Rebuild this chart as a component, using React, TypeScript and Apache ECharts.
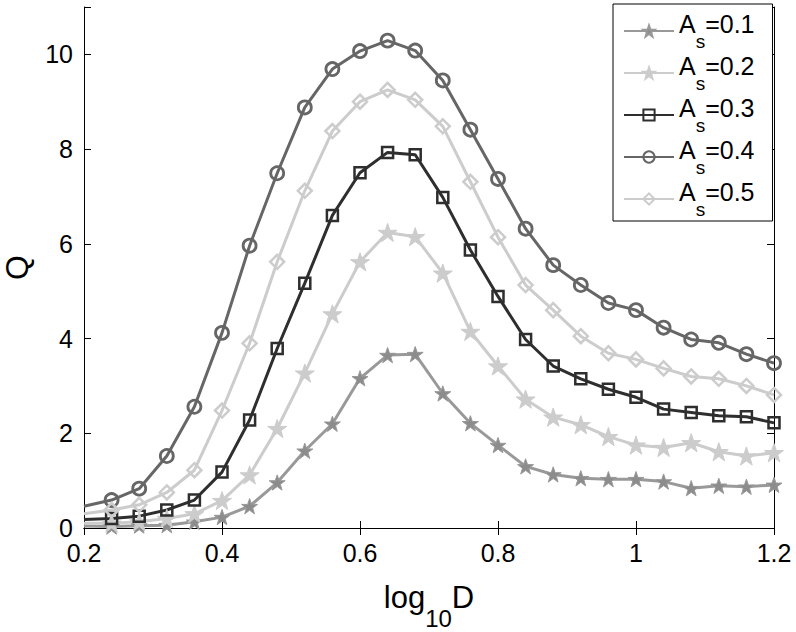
import React, { useEffect, useRef } from "react";
import * as echarts from "echarts";

const xs = [0.2, 0.24, 0.28, 0.32, 0.36, 0.4, 0.44, 0.48, 0.52, 0.56, 0.6, 0.64, 0.68, 0.72, 0.76, 0.8, 0.84, 0.88, 0.92, 0.96, 1.0, 1.04, 1.08, 1.12, 1.16, 1.2];
const q01 = [0.04, 0.03, 0.05, 0.06, 0.13, 0.23, 0.46, 0.96, 1.63, 2.2, 3.16, 3.65, 3.67, 2.84, 2.21, 1.75, 1.3, 1.13, 1.05, 1.03, 1.03, 0.98, 0.84, 0.89, 0.87, 0.91];
const q02 = [0.1, 0.1, 0.13, 0.2, 0.3, 0.58, 1.12, 2.1, 3.27, 4.52, 5.62, 6.24, 6.15, 5.38, 4.15, 3.42, 2.72, 2.34, 2.18, 1.93, 1.75, 1.7, 1.8, 1.61, 1.52, 1.59];
const q03 = [0.18, 0.2, 0.25, 0.38, 0.59, 1.18, 2.28, 3.79, 5.17, 6.6, 7.5, 7.93, 7.88, 6.98, 5.87, 4.89, 3.98, 3.42, 3.15, 2.93, 2.76, 2.51, 2.44, 2.37, 2.35, 2.22];
const q04 = [0.46, 0.59, 0.83, 1.52, 2.56, 4.12, 5.96, 7.49, 8.88, 9.69, 10.07, 10.29, 10.08, 9.45, 8.41, 7.37, 6.32, 5.55, 5.13, 4.75, 4.6, 4.23, 3.98, 3.91, 3.67, 3.48];
const q05 = [0.3, 0.38, 0.49, 0.75, 1.22, 2.48, 3.9, 5.62, 7.12, 8.38, 9.0, 9.25, 9.04, 8.48, 7.31, 6.14, 5.13, 4.6, 4.05, 3.69, 3.56, 3.37, 3.2, 3.15, 3.0, 2.81];
const asValues = ["0.1", "0.2", "0.3", "0.4", "0.5"];

const FONT = "'Liberation Sans', Arial, Helvetica, sans-serif";
const STAR = "path://M50,0 L61.8,35.1 L98.1,35.1 L68.8,56.7 L79.4,91.9 L50,70.2 L20.6,91.9 L31.2,56.7 L1.9,35.1 L38.2,35.1 Z";

function mk(name: string, vals: number[], color: string, symbol: string, size: number, fill: string, bw: number) {
  return {
    type: "line",
    name,
    data: xs.map((x, i) => (i === 0 ? { value: [x, vals[i]], symbol: "none" } : [x, vals[i]])),
    symbol,
    symbolSize: size,
    symbolKeepAspect: true,
    showSymbol: true,
    showAllSymbol: true,
    lineStyle: { color, width: 3 },
    itemStyle: { color: fill, borderColor: color, borderWidth: bw },
    emphasis: { disabled: true },
  };
}

export default function App() {
  const ref = useRef<HTMLDivElement>(null);
  useEffect(() => {
    const chart = echarts.init(ref.current!, null, { renderer: "svg" });
    const axisCommon = {
      type: "value",
      axisLine: { show: true, lineStyle: { color: "#000", width: 1 } },
      axisTick: { show: true, inside: true, length: 7, lineStyle: { color: "#000" } },
      splitLine: { show: false },
    };
    chart.setOption({
      animation: false,
      textStyle: { fontFamily: FONT },
      grid: { left: 84, right: 22, top: 7, bottom: 104, containLabel: false, outerBoundsMode: "none" },
      legend: {
        orient: "vertical",
        left: 613,
        top: 4,
        itemWidth: 50,
        itemHeight: 14,
        itemGap: 2,
        padding: [7, 18, 2, 10],
        borderColor: "#000",
        borderWidth: 1,
        backgroundColor: "#fff",
        formatter: (name: string) => `{a|A}{s|s}{a|=${name.split("=")[1]}}`,
        textStyle: {
          fontFamily: FONT,
          color: "#000",
          rich: {
            a: { fontSize: 25, lineHeight: 26, padding: [0, 0, 14, 0], color: "#000", fontFamily: FONT },
            s: { fontSize: 19, lineHeight: 19, padding: [21, 0, 0, 0], color: "#000", fontFamily: FONT },
          },
        },
      },
      xAxis: [
        {
          ...axisCommon,
          position: "bottom",
          min: 0.2,
          max: 1.2,
          interval: 0.2,
          axisLabel: { fontSize: 25, color: "#000", margin: 12, fontFamily: FONT },
          name: "{a|log}{s|10}{a|D}",
          nameLocation: "middle",
          nameGap: 62,
          nameTextStyle: {
            rich: {
              a: { fontSize: 31, lineHeight: 32, padding: [0, 0, 17, 0], color: "#000", fontFamily: FONT },
              s: { fontSize: 24, lineHeight: 24, padding: [25, 0, 0, 0], color: "#000", fontFamily: FONT },
            },
          },
        },
        {
          ...axisCommon,
          position: "top",
          min: 0.2,
          max: 1.2,
          interval: 0.2,
          axisLabel: { show: false },
        },
      ],
      yAxis: [
        {
          ...axisCommon,
          position: "left",
          min: 0,
          max: 11,
          interval: 2,
          axisLabel: {
            fontSize: 25,
            color: "#000",
            margin: 11,
            fontFamily: FONT,
            formatter: (v: number) => (v > 10.5 ? "" : String(v)),
          },
          name: "Q",
          nameLocation: "middle",
          nameGap: 51,
          nameTextStyle: { fontSize: 32, color: "#000", fontFamily: FONT },
        },
        {
          ...axisCommon,
          position: "right",
          min: 0,
          max: 11,
          interval: 2,
          axisLabel: { show: false },
        },
      ],
      series: [
        mk(`As=${asValues[0]}`, q01, "#999999", STAR, 16, "#8c8c8c", 1),
        mk(`As=${asValues[1]}`, q02, "#cccccc", STAR, 19, "#cccccc", 1),
        mk(`As=${asValues[2]}`, q03, "#2e2e2e", "rect", 11, "rgba(0,0,0,0)", 2.5),
        mk(`As=${asValues[3]}`, q04, "#666666", "circle", 13, "rgba(0,0,0,0)", 2.8),
        mk(`As=${asValues[4]}`, q05, "#cccccc", "diamond", 14, "rgba(0,0,0,0)", 2.5),
      ],
    });
    return () => chart.dispose();
  }, []);
  return (
    <div
      ref={ref}
      style={{ position: "fixed", left: 0, top: 0, width: 796, height: 632, background: "#fff" }}
    />
  );
}
